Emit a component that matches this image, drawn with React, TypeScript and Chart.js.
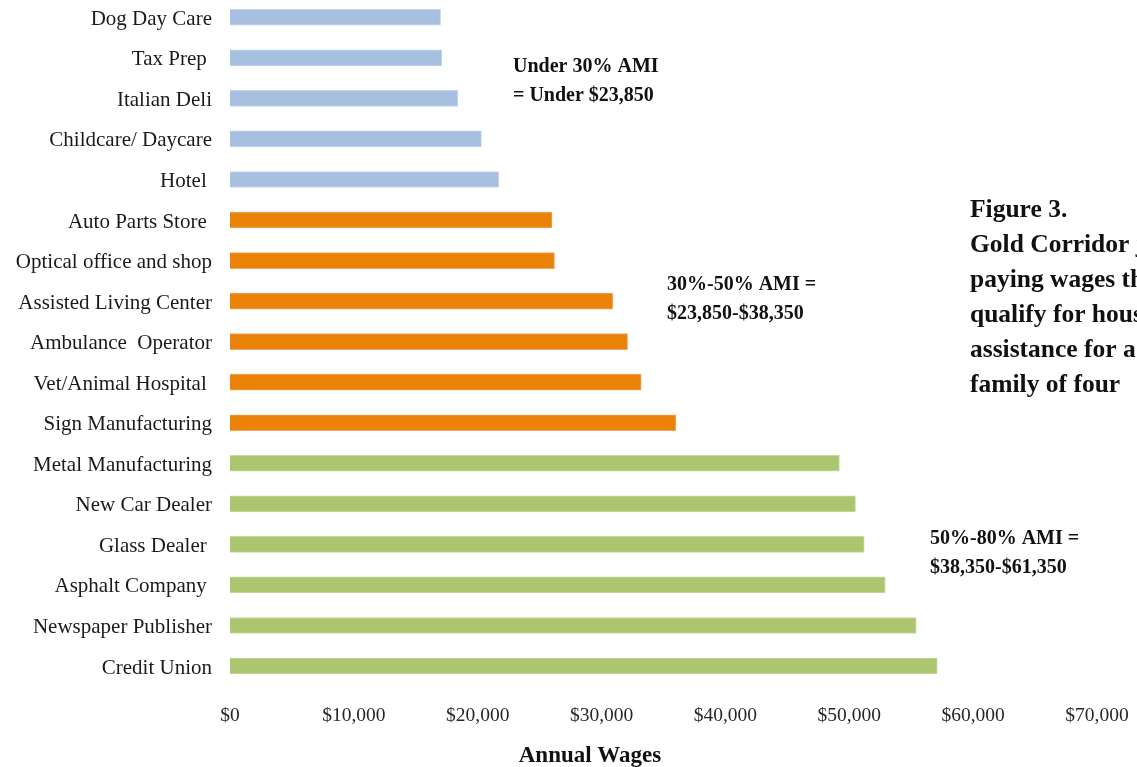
import React, { useEffect, useRef } from "react";
import { Chart, registerables } from "chart.js";

Chart.register(...registerables);

const categories = [
  "Dog Day Care",
  "Tax Prep ",
  "Italian Deli",
  "Childcare/ Daycare",
  "Hotel ",
  "Auto Parts Store ",
  "Optical office and shop",
  "Assisted Living Center",
  "Ambulance  Operator",
  "Vet/Animal Hospital ",
  "Sign Manufacturing",
  "Metal Manufacturing",
  "New Car Dealer",
  "Glass Dealer ",
  "Asphalt Company ",
  "Newspaper Publisher",
  "Credit Union",
];

const wages = [
  17000, 17100, 18400, 20300, 21700,
  26000, 26200, 30900, 32100, 33200, 36000,
  49200, 50500, 51200, 52900, 55400, 57100,
];

// 0 = under 30% AMI, 1 = 30%-50% AMI, 2 = 50%-80% AMI
const groups = [0, 0, 0, 0, 0, 1, 1, 1, 1, 1, 1, 2, 2, 2, 2, 2, 2];

const groupFill = ["#A7C0DF", "#EA8207", "#ABC66F"];
const groupBorder = ["#C4D5EB", "#F2A860", "#C6DA9C"];

const xTicks = [0, 10000, 20000, 30000, 40000, 50000, 60000, 70000];

const axisTitle = "Annual Wages";

const amiNotes = [
  { lines: ["Under 30% AMI", "= Under $23,850"], x: 513, y: 67 },
  { lines: ["30%-50% AMI =", "$23,850-$38,350"], x: 667, y: 285 },
  { lines: ["50%-80% AMI =", "$38,350-$61,350"], x: 930, y: 539 },
];

const figureLines = [
  "Figure 3.",
  "Gold Corridor jobs",
  "paying wages that",
  "qualify for housing",
  "assistance for a",
  "family of four",
];

const SERIF = '"Liberation Serif", "Times New Roman", serif';
const OFFSET = 4; // canvas is shifted up by this many pixels

const annotationPlugin = {
  id: "annotations",
  afterDraw(chart: any) {
    const ctx = chart.ctx;
    ctx.save();
    ctx.fillStyle = "#111111";
    ctx.textAlign = "left";
    ctx.textBaseline = "middle";
    ctx.font = `bold 20px ${SERIF}`;
    amiNotes.forEach((n) => {
      n.lines.forEach((l, i) => {
        ctx.fillText(l, n.x, n.y + OFFSET + i * 29);
      });
    });
    ctx.font = `bold 25.5px ${SERIF}`;
    figureLines.forEach((l, i) => {
      ctx.fillText(l, 970, 210 + OFFSET + i * 35);
    });
    ctx.font = `bold 23px ${SERIF}`;
    ctx.textAlign = "center";
    ctx.fillText(axisTitle, 590, 756 + OFFSET);
    ctx.restore();
  },
};

const zeroPadding = (scale: any) => {
  scale.paddingTop = 0;
  scale.paddingBottom = 0;
  scale.paddingLeft = 0;
  scale.paddingRight = 0;
};

export default function App() {
  const ref = useRef<HTMLCanvasElement | null>(null);

  useEffect(() => {
    if (!ref.current) return;
    const chart = new Chart(ref.current, {
      type: "bar",
      data: {
        labels: categories,
        datasets: [
          {
            data: wages,
            backgroundColor: groups.map((g) => groupFill[g]),
            borderColor: groups.map((g) => groupBorder[g]),
            borderWidth: 1,
            barThickness: 16,
          },
        ],
      },
      options: {
        indexAxis: "y",
        responsive: false,
        animation: false,
        layout: { padding: { left: 0, right: 40, top: 1, bottom: 0 } },
        plugins: {
          legend: { display: false },
          tooltip: { enabled: false },
        },
        scales: {
          x: {
            type: "linear",
            min: 0,
            max: 70000,
            afterBuildTicks: (scale: any) => {
              scale.ticks = xTicks.map((v) => ({ value: v }));
            },
            afterFit: (scale: any) => {
              scale.height = 80.7;
              zeroPadding(scale);
            },
            grid: { display: false, drawTicks: false },
            border: { display: false },
            ticks: {
              padding: 18,
              color: "#262626",
              font: { family: SERIF, size: 19.5 },
              maxRotation: 0,
              callback: (v: any) => "$" + Number(v).toLocaleString("en-US"),
            },
          },
          y: {
            type: "category",
            afterFit: (scale: any) => {
              scale.width = 230;
              zeroPadding(scale);
            },
            grid: { display: false, drawTicks: false },
            border: { display: false },
            ticks: {
              padding: 18,
              labelOffset: 2,
              color: "#1a1a1a",
              font: { family: SERIF, size: 21 },
              autoSkip: false,
            },
          },
        },
      },
      plugins: [annotationPlugin],
    } as any);
    return () => chart.destroy();
  }, []);

  return (
    <canvas
      ref={ref}
      width={1137}
      height={771}
      style={{ position: "absolute", left: 0, top: -OFFSET, display: "block", background: "#ffffff" }}
    />
  );
}
